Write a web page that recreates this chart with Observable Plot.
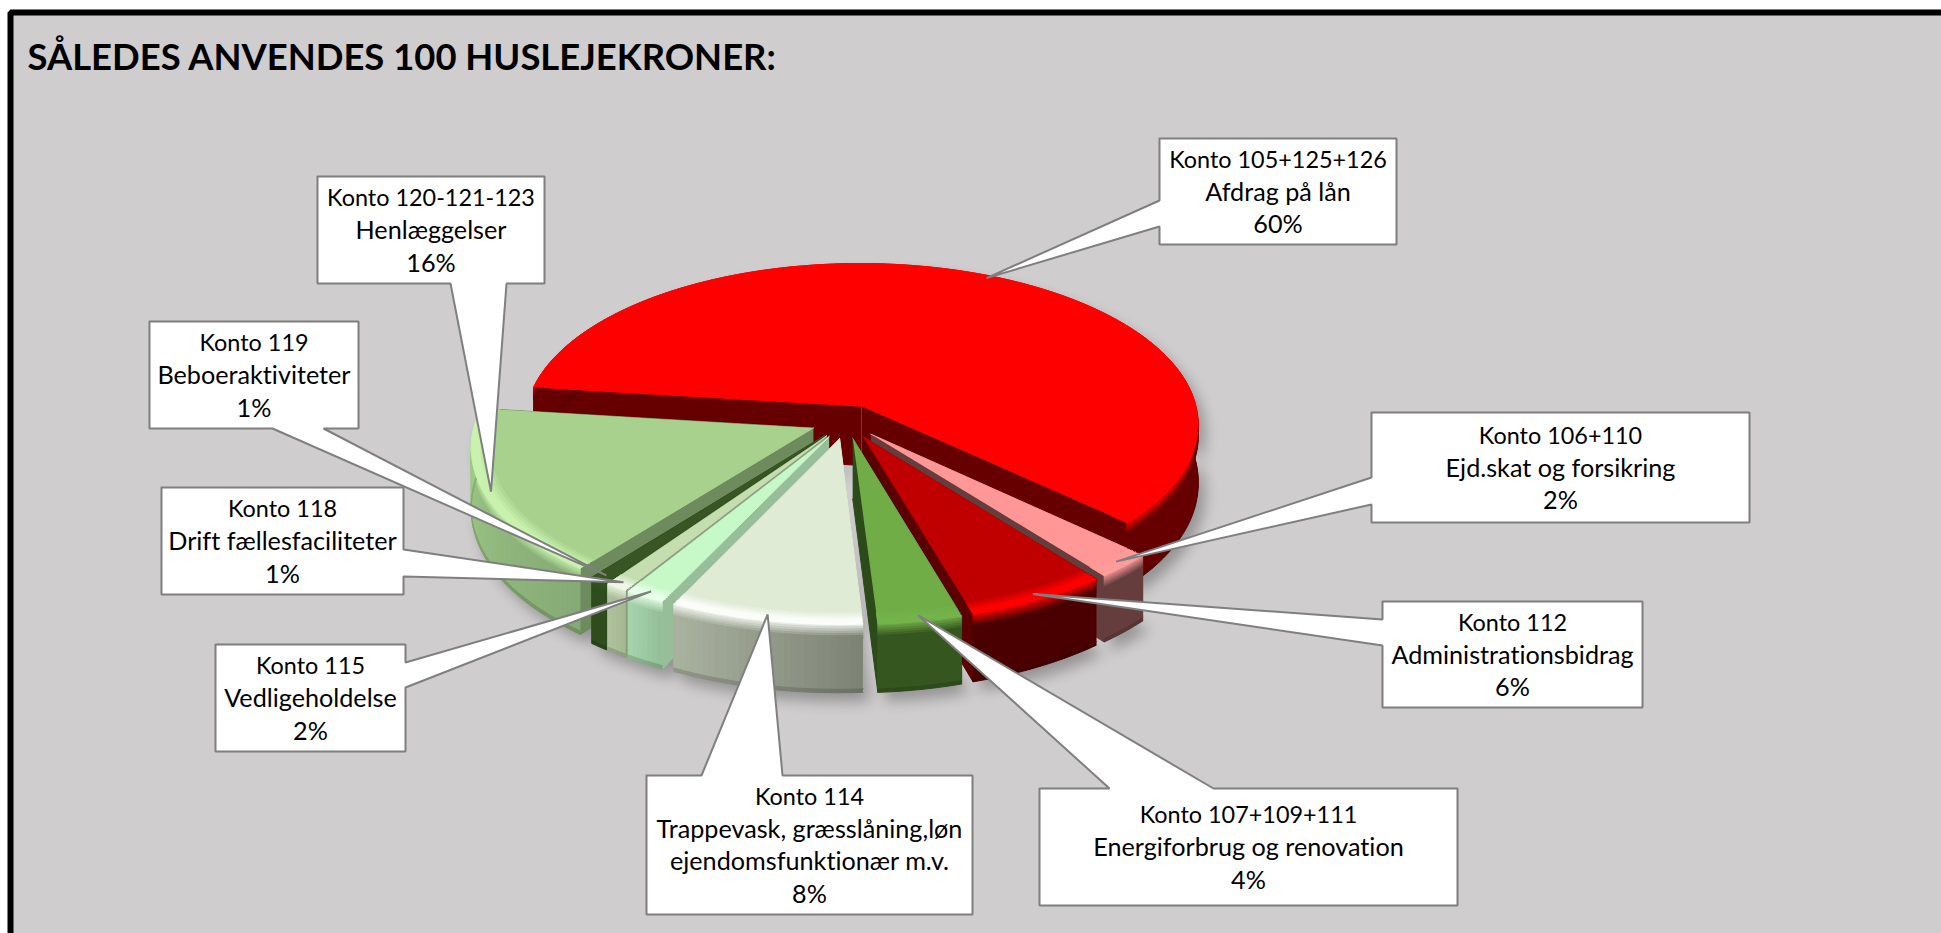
<!DOCTYPE html>
<html lang="da">
<head>
<meta charset="utf-8">
<title>Således anvendes 100 huslejekroner</title>
<style>
html,body{margin:0;padding:0;background:#fff;overflow:hidden}
text{font-variant-ligatures:none}
</style>
<script src="https://cdn.jsdelivr.net/npm/d3@7"></script>
<script src="https://cdn.jsdelivr.net/npm/@observablehq/plot@0.6"></script>
</head>
<body>
<div id="chart"></div>
<script>
// ---------- data ----------
const titleText = "SÅLEDES ANVENDES 100 HUSLEJEKRONER:";
const accounts = ["Konto 105+125+126","Konto 106+110","Konto 112","Konto 107+109+111","Konto 114","Konto 115","Konto 118","Konto 119","Konto 120-121-123"];
const descriptions = ["Afdrag på lån","Ejd.skat og forsikring","Administrationsbidrag","Energiforbrug og renovation","Trappevask, græsslåning,løn\nejendomsfunktionær m.v.","Vedligeholdelse","Drift fællesfaciliteter","Beboeraktiviteter","Henlæggelser"];
// shares; the labels show them rounded
const values = [60,2.45,6.05,3.55,8.15,1.7,0.95,0.8,16.35];

// ---------- styles: [top, rim highlight, wall at start angle, wall at end angle, radial wall] ----------
const sliceStyles = [
  ["#ff0000","#ff0000","#660000","#660000","#660000"],
  ["#ff9797","#ff9c9c","#663d3d","#663d3d","#663d3d"],
  ["#c00000","#ff0000","#4b0000","#4b0000","#5a0000"],
  ["#70ad47","#74b44a","#36561f","#36561f","#2d4a1b"],
  ["#e0ebd6","#fafdf8","#7c8375","#aab2a0","#aab2a0"],
  ["#c6f8c8","#e8ffe9","#93be97","#a6d5ac","#98be99"],
  ["#c5deaf","#eff8e5","#a6b892","#afc29e","#8e9e82"],
  ["#375623","#375623","#2f4c1c","#2f4c1c","#2c4a1a"],
  ["#a9d18e","#c9f2ae","#86aa75","#a3cf8a","#6e8b5e"]
];
// back-to-front painting order (indices into the arrays above)
const paintOrder = [0,8,7,6,5,1,2,3,4];

// ---------- layout of the callout boxes: box edges, side of the pointer, pointer base, tip radius ----------
const calloutLayout = [
  {x1:1159,x2:1396,y1:138,y2:244,side:"left",a:200,b:226,r:.98},
  {x1:1371,x2:1749,y1:412,y2:522,side:"left",a:477,b:504,r:.97},
  {x1:1382,x2:1642,y1:601,y2:707,side:"left",a:619,b:645,r:.97},
  {x1:1039,x2:1457,y1:788,y2:905,side:"top",a:1109,b:1213,r:.97},
  {x1:646,x2:972,y1:775,y2:914,side:"top",a:701,b:782,r:.97},
  {x1:215,x2:405,y1:644,y2:751,side:"right",a:662,b:687,r:.97},
  {x1:161,x2:403,y1:487,y2:594,side:"right",a:549,b:576,r:.97},
  {x1:149,x2:358,y1:321,y2:428,side:"bottom",a:272,b:323,r:.97},
  {x1:317,x2:544,y1:176,y2:283,side:"bottom",a:450,b:506,r:.98}
];

// ---------- view of the 3D pie ----------
const view = {X0:846,Y0:421,A:338,B:161.5,k:0.11,explode:0.106,h:60,startDeg:277};
const rad = d => d*Math.PI/180;
const pie = d3.pie().sort(null).startAngle(rad(view.startDeg)).endAngle(rad(view.startDeg+360))(values);

function project(arc,theta,r,z){
  const mid=(arc.startAngle+arc.endAngle)/2;
  const u=r*Math.sin(theta)+view.explode*Math.sin(mid);
  const v=-r*Math.cos(theta)-view.explode*Math.cos(mid);
  const w=1-view.k*v;
  return [view.X0+view.A*u/w, view.Y0+(view.B*v+z)/w];
}

let polyId=0;
const mesh=[], shadow=[];
function addPoly(target,pts,color){
  const id=polyId++;
  for(const p of pts) target.push({x:p[0],y:p[1],id,c:color});
}
const mix=(a,b,t)=>d3.interpolateRgb(a,b)(t);

for(const i of paintOrder){
  const arc=pie[i], [top,hi,wallA,wallB,radial]=sliceStyles[i], h=view.h;
  const a0=arc.startAngle,a1=arc.endAngle;
  const n=Math.max(4,Math.ceil((a1-a0)/rad(1)));
  const th=d3.range(n+1).map(j=>a0+(a1-a0)*j/n);

  // shadow
  const s=[project(arc,0,0,h),...th.map(t=>project(arc,t,1,h)),...th.slice().reverse().map(t=>project(arc,t,1,0))];
  addPoly(shadow,s.map(p=>[p[0]+7,p[1]+9]),"#000");

  // radial walls
  for(const t of [a0,a1]){
    addPoly(mesh,[project(arc,0,0,0),project(arc,t,1,0),project(arc,t,1,h),project(arc,0,0,h)],radial);
  }
  // outer wall: strips down the height, shaded along the rim
  const zStops=[0,2,4,6,8,10,12,h-3,h];
  const stripColor=(base,z0,z1)=> z1<=12 ? mix(hi,base,z1/12) : z0>=h-3 ? mix(base,"#000",.15) : base;
  for(let q=0;q<zStops.length-1;q++){
    const z0=zStops[q],z1=zStops[q+1];
    if(wallA===wallB){
      addPoly(mesh,[...th.map(t=>project(arc,t,1,z0)),...th.slice().reverse().map(t=>project(arc,t,1,z1))],stripColor(wallA,z0,z1));
    } else {
      for(let j=0;j<n;j++){
        const base=mix(wallA,wallB,(j+.5)/n);
        addPoly(mesh,[project(arc,th[j],1,z0),project(arc,th[j+1],1,z0),project(arc,th[j+1],1,z1),project(arc,th[j],1,z1)],stripColor(base,z0,z1));
      }
    }
  }
  // top face with soft rim
  addPoly(mesh,[project(arc,0,0,0),...th.map(t=>project(arc,t,.945,0))],top);
  const rStops=[.945,.955,.965,.975,.985,1];
  for(let q=0;q<rStops.length-1;q++){
    const col=mix(top,hi,Math.min(1,(q+1)/(rStops.length-2)));
    const outer=th.map(t=>project(arc,t,rStops[q+1],0));
    const inner=th.map(t=>project(arc,t,rStops[q],0)).reverse();
    addPoly(mesh,[...outer,...inner],col);
  }
}

// ---------- callouts ----------
const callouts=[], accountLines=[], bodyLines=[];
const lineStep=32.5;
calloutLayout.forEach((b,i)=>{
  const arc=pie[i], mid=(arc.startAngle+arc.endAngle)/2;
  const tip=project(arc,mid,b.r,0);
  const {x1,x2,y1,y2,a,b:bb,side}=b;
  let pts;
  if(side==="left") pts=[[x1,y1],[x2,y1],[x2,y2],[x1,y2],[x1,bb],tip,[x1,a]];
  if(side==="right") pts=[[x1,y1],[x2,y1],[x2,a],tip,[x2,bb],[x2,y2],[x1,y2]];
  if(side==="top") pts=[[x1,y1],[a,y1],tip,[bb,y1],[x2,y1],[x2,y2],[x1,y2]];
  if(side==="bottom") pts=[[x1,y1],[x2,y1],[x2,y2],[bb,y2],tip,[a,y2],[x1,y2]];
  pts.push(pts[0]);
  pts.forEach(p=>callouts.push({x:p[0],y:p[1],id:i}));
  const rest=[...descriptions[i].split("\n"),`${Math.round(values[i])}%`];
  const n=rest.length+1, cx=(x1+x2)/2, cy=(y1+y2)/2+1;
  const yOf=k=>cy+(k-(n-1)/2)*lineStep;
  accountLines.push({x:cx,y:yOf(0),text:accounts[i]});
  rest.forEach((t,k)=>bodyLines.push({x:cx,y:yOf(k+1),text:t}));
});

const blur=(px,op)=>(index,scales,values,dims,ctx,next)=>{
  const g=next(index,scales,values,dims,ctx);
  g.style.filter=`blur(${px}px)`; g.style.opacity=op; return g;
};

const fontFamily="Lato, 'Open Sans', sans-serif";
const chart=Plot.plot({
  width:1941,height:933,margin:0,
  x:{domain:[0,1941],axis:null},
  y:{domain:[933,0],axis:null},
  color:{type:"identity"},
  style:{background:"#fff",fontFamily},
  marks:[
    Plot.rect([{x1:10,x2:1941,y1:12,y2:933}],{x1:"x1",x2:"x2",y1:"y1",y2:"y2",fill:"#cfcdce"}),
    Plot.line([[10,933],[10,12],[1941,12]],{x:d=>d[0],y:d=>d[1],stroke:"#000",strokeWidth:6,strokeLinejoin:"miter"}),
    Plot.text([titleText],{x:()=>27,y:()=>58,text:d=>d,textAnchor:"start",fontSize:36.4,fontWeight:700,fill:"#000",fontFamily}),
    Plot.line(shadow,{x:"x",y:"y",z:"id",fill:"#000",stroke:"none",render:blur(7,.28)}),
    Plot.line(mesh,{x:"x",y:"y",z:"id",fill:"c",stroke:"c",strokeWidth:1}),
    Plot.line(callouts,{x:"x",y:"y",z:"id",fill:"#fff",stroke:"#7f7f7f",strokeWidth:2,strokeLinejoin:"miter"}),
    Plot.text(accountLines,{x:"x",y:"y",text:"text",fontSize:23.4,fill:"#000",textAnchor:"middle",fontFamily}),
    Plot.text(bodyLines,{x:"x",y:"y",text:"text",fontSize:25.2,fill:"#000",textAnchor:"middle",fontFamily})
  ]
});
document.getElementById("chart").append(chart);
</script>
</body>
</html>
